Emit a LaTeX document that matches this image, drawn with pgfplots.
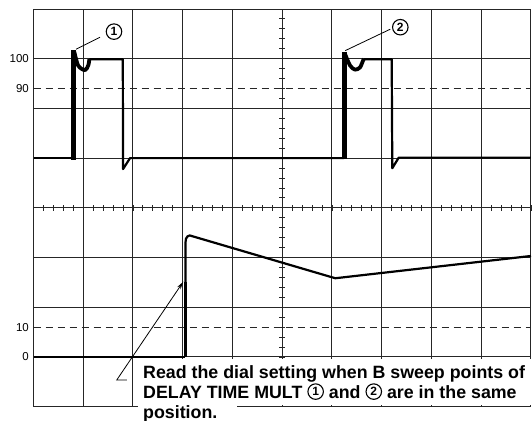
\documentclass[border=0pt]{standalone}
\usepackage{pgfplots}
\pgfplotsset{compat=1.18}
\usepackage{fontspec}
\setmainfont{Liberation Sans}
\usetikzlibrary{arrows.meta}
\newsavebox\cOne
\newsavebox\cTwo
\begin{document}
\sbox\cOne{\tikz\node[circle,draw,line width=1.1bp,inner sep=0pt,minimum size=15.5bp,font=\fontsize{12bp}{12bp}\selectfont\bfseries]{1};}%
\sbox\cTwo{\tikz\node[circle,draw,line width=1.1bp,inner sep=0pt,minimum size=15.5bp,font=\fontsize{12bp}{12bp}\selectfont\bfseries]{2};}%
\newcommand{\cnum}[1]{\raisebox{-1.6bp}{\usebox{#1}}}%
\begin{tikzpicture}
\begin{axis}[
  at={(0,0)}, anchor=south west,
  scale only axis, width=497.5bp, height=397.7bp,
  xmin=-5, xmax=5, ymin=-4, ymax=4,
  axis lines=middle, axis line style={-, black!85, line width=1bp},
  xtick={-5,...,5}, ytick={-4,...,4},
  minor x tick num=4, minor y tick num=4,
  xticklabels={}, yticklabels={},
  grid=major, major grid style={black!85, line width=1bp},
  tick align=center, major tick length=6bp, minor tick length=6bp,
  tick style={black!85, line width=0.9bp},
  clip=false,
  tr/.style={black, line width=2.2bp, line join=round, mark=none},
]
% graticule dashed lines
\draw[black!85, line width=1bp, dash pattern=on 7bp off 5bp] (axis cs:-5,2.4) -- (axis cs:5,2.4);
\draw[black!85, line width=1bp, dash pattern=on 7bp off 5bp] (axis cs:-5,-2.4) -- (axis cs:5,-2.4);
% white area behind text
\fill[white] (axis cs:-2.89,-3.96) rectangle (axis cs:5.05,-3.04);
\fill[white] (axis cs:-2.89,-4.3) rectangle (axis cs:-0.9,-3.9);
% upper trace
\addplot[tr, line width=2.4bp] coordinates {(-5,1) (-4.19,1)};
\addplot[tr, line width=5bp, line cap=butt] coordinates {(-4.196,0.97) (-4.196,3.17)};
\addplot[tr, line width=3.8bp, smooth] coordinates {(-4.18,3.14) (-4.10,2.86) (-3.965,2.77) (-3.898,2.87) (-3.878,2.99)};
\addplot[tr] coordinates {(-3.878,2.99) (-3.205,2.99) (-3.200,0.78) (-3.06,1.0) (1.245,1.0)};
\addplot[tr, line width=5bp, line cap=butt] coordinates {(1.245,0.98) (1.245,3.13)};
\addplot[tr, line width=3.8bp, smooth] coordinates {(1.26,3.10) (1.362,2.865) (1.462,2.78) (1.563,2.825) (1.629,2.976) (1.643,2.99)};
\addplot[tr] coordinates {(1.643,2.99) (2.200,2.99) (2.212,0.797) (2.341,1.01) (5,1.01)};
% lower trace
\addplot[tr, line width=2.6bp] coordinates {(-5,-3) (-1.945,-3)};
\addplot[tr, line width=2.6bp] coordinates {(-1.945,-3) (-1.945,-1.5)};
\addplot[tr] coordinates {(-1.945,-1.5) (-1.945,-0.70) (-1.935,-0.62) (-1.905,-0.575) (-1.86,-0.555) (1.066,-1.416) (5,-0.968)};
% annotations
\draw[black, line width=0.8bp] (axis cs:-4.146,3.191) -- (axis cs:-3.663,3.433);
\node[inner sep=0pt] at (axis cs:-3.382,3.545) {\usebox\cOne};
\draw[black, line width=0.8bp] (axis cs:1.267,3.163) -- (axis cs:2.172,3.594);
\node[inner sep=0pt] at (axis cs:2.373,3.634) {\usebox\cTwo};
\draw[black, line width=0.8bp, -{Stealth[length=8bp,width=4bp]}] (axis cs:-3.121,-3.463) -- (axis cs:-3.327,-3.463) -- (axis cs:-1.989,-1.485);
% left labels
\node[anchor=east, inner sep=0pt, font=\fontsize{11.5bp}{12bp}\selectfont] at (axis cs:-5.09,3) {100};
\node[anchor=east, inner sep=0pt, font=\fontsize{11.5bp}{12bp}\selectfont] at (axis cs:-5.09,2.4) {90};
\node[anchor=east, inner sep=0pt, font=\fontsize{11.5bp}{12bp}\selectfont] at (axis cs:-5.09,-2.4) {10};
\node[anchor=east, inner sep=0pt, font=\fontsize{11.5bp}{12bp}\selectfont] at (axis cs:-5.09,-3) {0};
% text
\node[anchor=base west, inner sep=0pt, font=\fontsize{17.8bp}{20bp}\selectfont\bfseries] at (axis cs:-2.799,-3.429) {Read the dial setting when B sweep points of};
\node[anchor=base west, inner sep=0pt, font=\fontsize{17.8bp}{20bp}\selectfont\bfseries] at (axis cs:-2.799,-3.831) {DELAY TIME MULT \cnum\cOne{} and \cnum\cTwo{} are in the same};
\node[anchor=base west, inner sep=0pt, font=\fontsize{17.8bp}{20bp}\selectfont\bfseries] at (axis cs:-2.799,-4.233) {position.};
\end{axis}
\pgfresetboundingbox
\path[use as bounding box] (-33.5bp,-14.3bp) rectangle (498.5bp,406.7bp);
\end{tikzpicture}
\end{document}
